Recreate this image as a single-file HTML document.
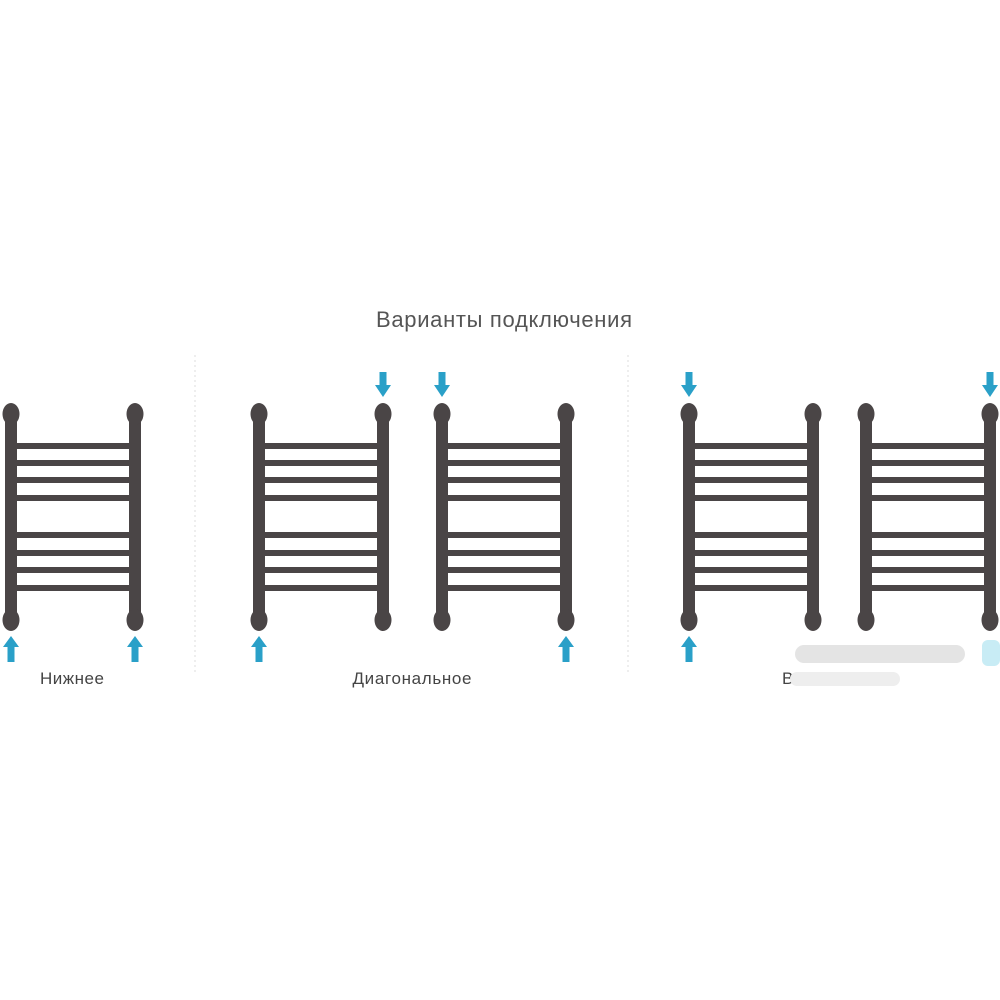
<!DOCTYPE html>
<html><head><meta charset="utf-8"><style>
body{margin:0;background:#fff;width:1000px;height:1000px;overflow:hidden}
svg{display:block}
</style></head><body>
<svg width="1000" height="1000" viewBox="0 0 1000 1000" font-family="Liberation Sans, DejaVu Sans, sans-serif">
<defs>
<g id="r" fill="#4a4546">
<rect x="-6" y="410" width="12" height="214"/>
<rect x="118" y="410" width="12" height="214"/>
<ellipse cx="0" cy="414" rx="8.5" ry="11"/>
<ellipse cx="124" cy="414" rx="8.5" ry="11"/>
<ellipse cx="0" cy="620" rx="8.5" ry="11"/>
<ellipse cx="124" cy="620" rx="8.5" ry="11"/>
<rect x="4" y="443" width="116" height="6"/>
<rect x="4" y="460" width="116" height="6"/>
<rect x="4" y="477" width="116" height="6"/>
<rect x="4" y="495" width="116" height="6"/>
<rect x="4" y="532" width="116" height="6"/>
<rect x="4" y="550" width="116" height="6"/>
<rect x="4" y="567" width="116" height="6"/>
<rect x="4" y="585" width="116" height="6"/>
</g>
<g id="up" fill="#2aa0c8"><polygon points="0,636 -8,647 -3.5,647 -3.5,662 3.5,662 3.5,647 8,647"/></g>
<g id="dn" fill="#2aa0c8"><polygon points="-3.5,372 3.5,372 3.5,385 8,385 0,397 -8,385 -3.5,385"/></g>
</defs>
<text x="504" y="327" font-size="22" fill="#555" text-anchor="middle" textLength="256">Варианты подключения</text>
<line x1="195" y1="355" x2="195" y2="675" stroke="#ddd" stroke-dasharray="2,3"/>
<line x1="628" y1="355" x2="628" y2="675" stroke="#ddd" stroke-dasharray="2,3"/>
<use href="#r" x="11"/>
<use href="#r" x="259"/>
<use href="#r" x="442"/>
<use href="#r" x="689"/>
<use href="#r" x="866"/>
<use href="#up" x="11"/><use href="#up" x="135"/>
<use href="#dn" x="383"/><use href="#up" x="259"/>
<use href="#dn" x="442"/><use href="#up" x="566"/>
<use href="#dn" x="689"/><use href="#up" x="689"/>
<use href="#dn" x="990"/>
<text x="72" y="684" font-size="17" fill="#444" text-anchor="middle" textLength="64">Нижнее</text>
<text x="412" y="684" font-size="17" fill="#444" text-anchor="middle" textLength="119">Диагональное</text>
<text x="782" y="684" font-size="17" fill="#444">В</text>
<rect x="795" y="645" width="170" height="18" rx="9" fill="#e4e4e4"/>
<rect x="790" y="672" width="110" height="14" rx="7" fill="#eeeeee"/>
<rect x="982" y="640" width="18" height="26" rx="6" fill="#c8ecf5"/>
</svg>
</body></html>
